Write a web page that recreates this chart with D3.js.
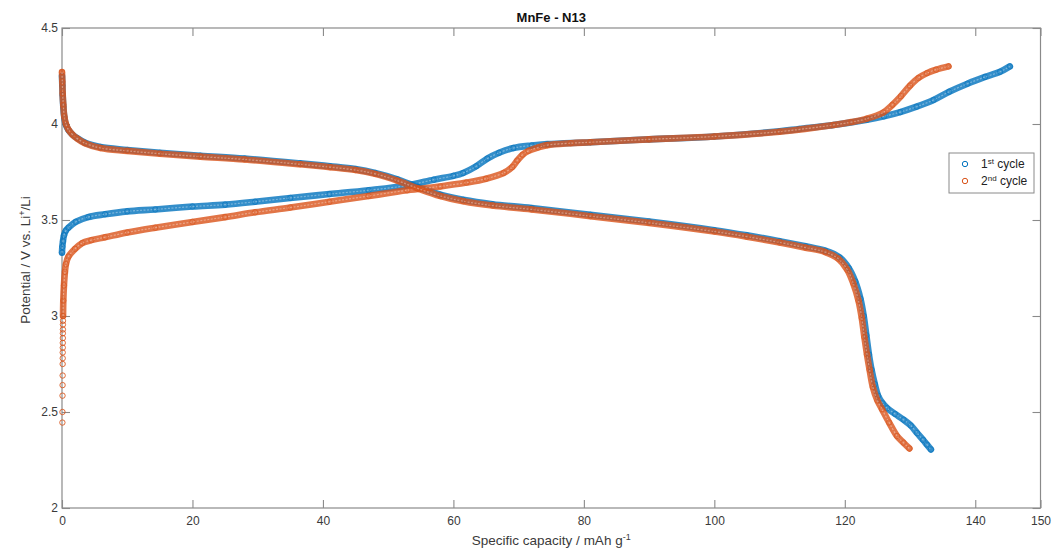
<!DOCTYPE html>
<html>
<head>
<meta charset="utf-8">
<script src="https://cdn.jsdelivr.net/npm/d3@7"></script>
<style>
  body { margin: 0; background: #fff; }
  text { font-family: "Liberation Sans", Arial, Helvetica, sans-serif; }
</style>
</head>
<body>
<svg id="chart" width="1053" height="548"></svg>
<script>
// Axis ticks
const xTicks = [0, 20, 40, 60, 80, 100, 120, 140, 150];
const yTicks = [2, 2.5, 3, 3.5, 4, 4.5];

// [specific capacity (mAh/g), potential (V)]
const cycle1Charge = [
  [0.0, 3.33], [0.05, 3.36], [0.15, 3.39], [0.3, 3.42], [0.6, 3.445], [1.0, 3.46],
  [2.1, 3.49], [4.0, 3.515], [6.6, 3.53], [10, 3.545], [14.3, 3.555], [20, 3.57],
  [25, 3.58], [29.6, 3.595], [35, 3.615], [41, 3.635], [47, 3.655], [52.9, 3.68],
  [57, 3.71], [60, 3.73], [61.5, 3.745], [63.5, 3.78], [65.2, 3.82], [67, 3.85],
  [69.2, 3.875], [72, 3.888], [74.4, 3.895], [81, 3.905], [90, 3.92], [100, 3.935],
  [110, 3.962], [113, 3.974], [118, 3.993], [123.4, 4.022], [126, 4.04], [128.5, 4.062],
  [131, 4.09], [133.6, 4.125], [136, 4.168], [138.8, 4.21], [141.5, 4.245], [143.8, 4.272],
  [145.3, 4.30]
];

const cycle1Discharge = [
  [0.0, 4.25], [0.05, 4.2], [0.1, 4.15], [0.2, 4.09], [0.35, 4.035], [0.6, 3.995],
  [1.0, 3.968], [1.6, 3.945], [2.3, 3.927], [3.5, 3.903], [5.9, 3.88], [10, 3.865],
  [15, 3.85], [21.2, 3.835], [28, 3.82], [36.5, 3.795], [41.1, 3.78], [45, 3.765],
  [48, 3.745], [51.4, 3.712], [54.5, 3.672], [58, 3.632], [61.5, 3.605], [66, 3.582],
  [72, 3.562], [81, 3.527], [90, 3.492], [100, 3.447], [105, 3.42], [110, 3.39],
  [114, 3.363], [117, 3.34], [119.2, 3.305], [120.6, 3.25], [121.6, 3.18], [122.4, 3.09],
  [122.9, 3.0], [123.3, 2.9], [123.7, 2.8], [124.1, 2.72], [124.6, 2.645], [125.1, 2.585],
  [125.8, 2.545], [126.5, 2.52], [127.7, 2.49], [129, 2.46], [130.1, 2.43], [131.1, 2.39],
  [132, 2.355], [132.6, 2.33], [133.2, 2.305]
];

// relaxation points recorded at the start of the 2nd charge
const cycle2Rest = [
  [0.06, 2.445], [0.07, 2.50], [0.08, 2.585], [0.09, 2.64], [0.1, 2.69], [0.1, 2.75],
  [0.11, 2.78], [0.11, 2.81], [0.12, 2.835], [0.12, 2.86], [0.13, 2.885], [0.13, 2.91],
  [0.14, 2.93], [0.14, 2.955], [0.15, 2.975]
];

const cycle2Charge = [
  [0.16, 3.0], [0.2, 3.08], [0.3, 3.16], [0.45, 3.23], [0.6, 3.27], [1.0, 3.31],
  [2.0, 3.35], [3.1, 3.38], [4.5, 3.395], [6.6, 3.41], [10, 3.435], [14.3, 3.46],
  [20, 3.49], [25, 3.515], [29.6, 3.54], [35, 3.565], [41, 3.595], [47, 3.625],
  [52.9, 3.655], [58, 3.675], [62, 3.695], [65, 3.715], [67.7, 3.745], [69, 3.775],
  [69.8, 3.81], [70.6, 3.84], [71.5, 3.86], [73, 3.878], [74.4, 3.89], [78, 3.9],
  [81, 3.905], [90, 3.92], [100, 3.935], [110, 3.96], [118.3, 3.995], [121, 4.01],
  [123.4, 4.028], [125.9, 4.06], [127.3, 4.10], [128.6, 4.145], [130, 4.2], [131.3, 4.24],
  [132.6, 4.265], [134, 4.283], [135.9, 4.30]
];

const cycle2Discharge = [
  [0.0, 4.27], [0.05, 4.22], [0.1, 4.16], [0.2, 4.1], [0.35, 4.04], [0.6, 4.0],
  [1.0, 3.97], [1.6, 3.945], [2.3, 3.925], [3.5, 3.9], [5.9, 3.875], [10, 3.86],
  [15, 3.845], [21.2, 3.83], [28, 3.815], [36.5, 3.79], [41.1, 3.775], [45, 3.76],
  [48, 3.74], [51.4, 3.705], [54.5, 3.665], [58, 3.625], [61.5, 3.598], [66, 3.575],
  [72, 3.555], [81, 3.52], [90, 3.485], [100, 3.44], [105, 3.413], [110, 3.383],
  [114, 3.356], [117, 3.333], [119, 3.298], [120.4, 3.24], [121.3, 3.17], [122.1, 3.08],
  [122.6, 2.99], [123.0, 2.89], [123.4, 2.8], [123.8, 2.72], [124.3, 2.63], [125.0, 2.56],
  [125.7, 2.515], [126.8, 2.445], [128, 2.375], [129, 2.34], [129.9, 2.31]
];

const seriesNames = ["1st cycle", "2nd cycle"];
const seriesColors = ["#0072BD", "#D95319"];

const svg = d3.select("#chart");
const margin = { left: 62, right: 12.5, top: 28, bottom: 40 };
const W = 1053, H = 548;

const x = d3.scaleLinear().domain([0, 150]).range([margin.left, W - margin.right]);
const y = d3.scaleLinear().domain([2, 4.5]).range([H - margin.bottom, margin.top]);

const axisColor = "#8a8a8a";
const labelColor = "#3a3a3a";

// Plot frame
svg.append("rect")
  .attr("x", x(0)).attr("y", y(4.5))
  .attr("width", x(150) - x(0)).attr("height", y(2) - y(4.5))
  .attr("fill", "none").attr("stroke", axisColor).attr("stroke-width", 1.2);

// Axes with inward ticks, mirrored on top and right
const tickLen = 8;
const xAxisB = d3.axisBottom(x).tickValues(xTicks).tickSize(-tickLen).tickPadding(8).tickFormat(d3.format("d"));
const xAxisT = d3.axisTop(x).tickValues(xTicks).tickSize(-tickLen).tickFormat("");
const yAxisL = d3.axisLeft(y).tickValues(yTicks).tickSize(-tickLen).tickPadding(4).tickFormat(d => String(d));
const yAxisR = d3.axisRight(y).tickValues(yTicks).tickSize(-tickLen).tickFormat("");

function styleAxis(g) {
  g.select(".domain").remove();
  g.selectAll(".tick line").attr("stroke", axisColor).attr("stroke-width", 1.1);
  g.selectAll(".tick text").attr("fill", labelColor).style("font-size", "12px")
    .style("font-family", "'Liberation Sans', Arial, sans-serif");
}
svg.append("g").attr("transform", `translate(0,${y(2)})`).call(xAxisB).call(styleAxis);
svg.append("g").attr("transform", `translate(0,${y(4.5)})`).call(xAxisT).call(styleAxis);
svg.append("g").attr("transform", `translate(${x(0)},0)`).call(yAxisL).call(styleAxis);
svg.append("g").attr("transform", `translate(${x(150)},0)`).call(yAxisR).call(styleAxis);

// Curves: dense hollow-marker bands
svg.append("clipPath").attr("id", "plotClip").append("rect")
  .attr("x", x(0) - 4).attr("y", y(4.5)).attr("width", x(150) - x(0) + 4).attr("height", y(2) - y(4.5));

const plot = svg.append("g").attr("clip-path", "url(#plotClip)");
const line = d3.line().x(d => x(d[0])).y(d => y(d[1])).curve(d3.curveCatmullRom.alpha(0.5));

function drawBand(data, color) {
  plot.append("path").datum(data)
    .attr("d", line).attr("fill", "none")
    .attr("stroke", color).attr("stroke-width", 6.6).attr("stroke-opacity", 0.8)
    .attr("stroke-linecap", "round").attr("stroke-linejoin", "round");
  plot.append("path").datum(data)
    .attr("d", line).attr("fill", "none")
    .attr("stroke", "#ffffff").attr("stroke-width", 1.2).attr("stroke-opacity", 0.35)
    .attr("stroke-dasharray", "2 1.5");
}
function drawMarkers(data, color, opacity) {
  plot.append("g").selectAll("circle").data(data).join("circle")
    .attr("cx", d => x(d[0])).attr("cy", d => y(d[1])).attr("r", 2.7)
    .attr("fill", "none").attr("stroke", color).attr("stroke-width", 1)
    .attr("stroke-opacity", opacity);
}

drawBand(cycle1Charge, seriesColors[0]);
drawBand(cycle1Discharge, seriesColors[0]);
drawMarkers(cycle1Charge, seriesColors[0], 0.6);
drawMarkers(cycle1Discharge, seriesColors[0], 0.6);

drawMarkers(cycle2Rest, seriesColors[1], 0.85);
drawBand(cycle2Charge, seriesColors[1]);
drawBand(cycle2Discharge, seriesColors[1]);
drawMarkers(cycle2Charge, seriesColors[1], 0.6);
drawMarkers(cycle2Discharge, seriesColors[1], 0.6);

// Title
svg.append("text").attr("x", (x(0) + x(150)) / 2).attr("y", 22)
  .attr("text-anchor", "middle").style("font-size", "13px").style("font-weight", "bold")
  .attr("fill", "#111").text("MnFe - N13");

// X label
const xl = svg.append("text").attr("x", (x(0) + x(150)) / 2).attr("y", 545)
  .attr("text-anchor", "middle").style("font-size", "13.5px").attr("fill", labelColor);
xl.append("tspan").text("Specific capacity / mAh g");
xl.append("tspan").attr("dy", -5).style("font-size", "9px").text("-1");

// Y label
const yl = svg.append("text")
  .attr("transform", `translate(30,260) rotate(-90)`)
  .attr("text-anchor", "middle").style("font-size", "13.5px").attr("fill", labelColor);
yl.append("tspan").text("Potential / V vs. Li");
yl.append("tspan").attr("dy", -5).style("font-size", "9px").text("+");
yl.append("tspan").attr("dy", 5).text("/Li");

// Legend
const lg = svg.append("g").attr("transform", "translate(949,153)");
lg.append("rect").attr("width", 85).attr("height", 40)
  .attr("fill", "#fff").attr("stroke", "#8a8a8a").attr("stroke-width", 1);
const sups = ["st", "nd"];
seriesNames.forEach((name, i) => {
  const row = lg.append("g").attr("transform", `translate(0,${11 + i * 17})`);
  row.append("circle").attr("cx", 16).attr("cy", 0).attr("r", 2.7)
    .attr("fill", "none").attr("stroke", seriesColors[i]).attr("stroke-width", 1);
  const t = row.append("text").attr("x", 32).attr("y", 4).style("font-size", "12px").attr("fill", "#222");
  t.append("tspan").text(name.charAt(0));
  t.append("tspan").attr("dy", -4).style("font-size", "8px").text(sups[i]);
  t.append("tspan").attr("dy", 4).text(" " + name.split(" ")[1]);
});
</script>
</body>
</html>
